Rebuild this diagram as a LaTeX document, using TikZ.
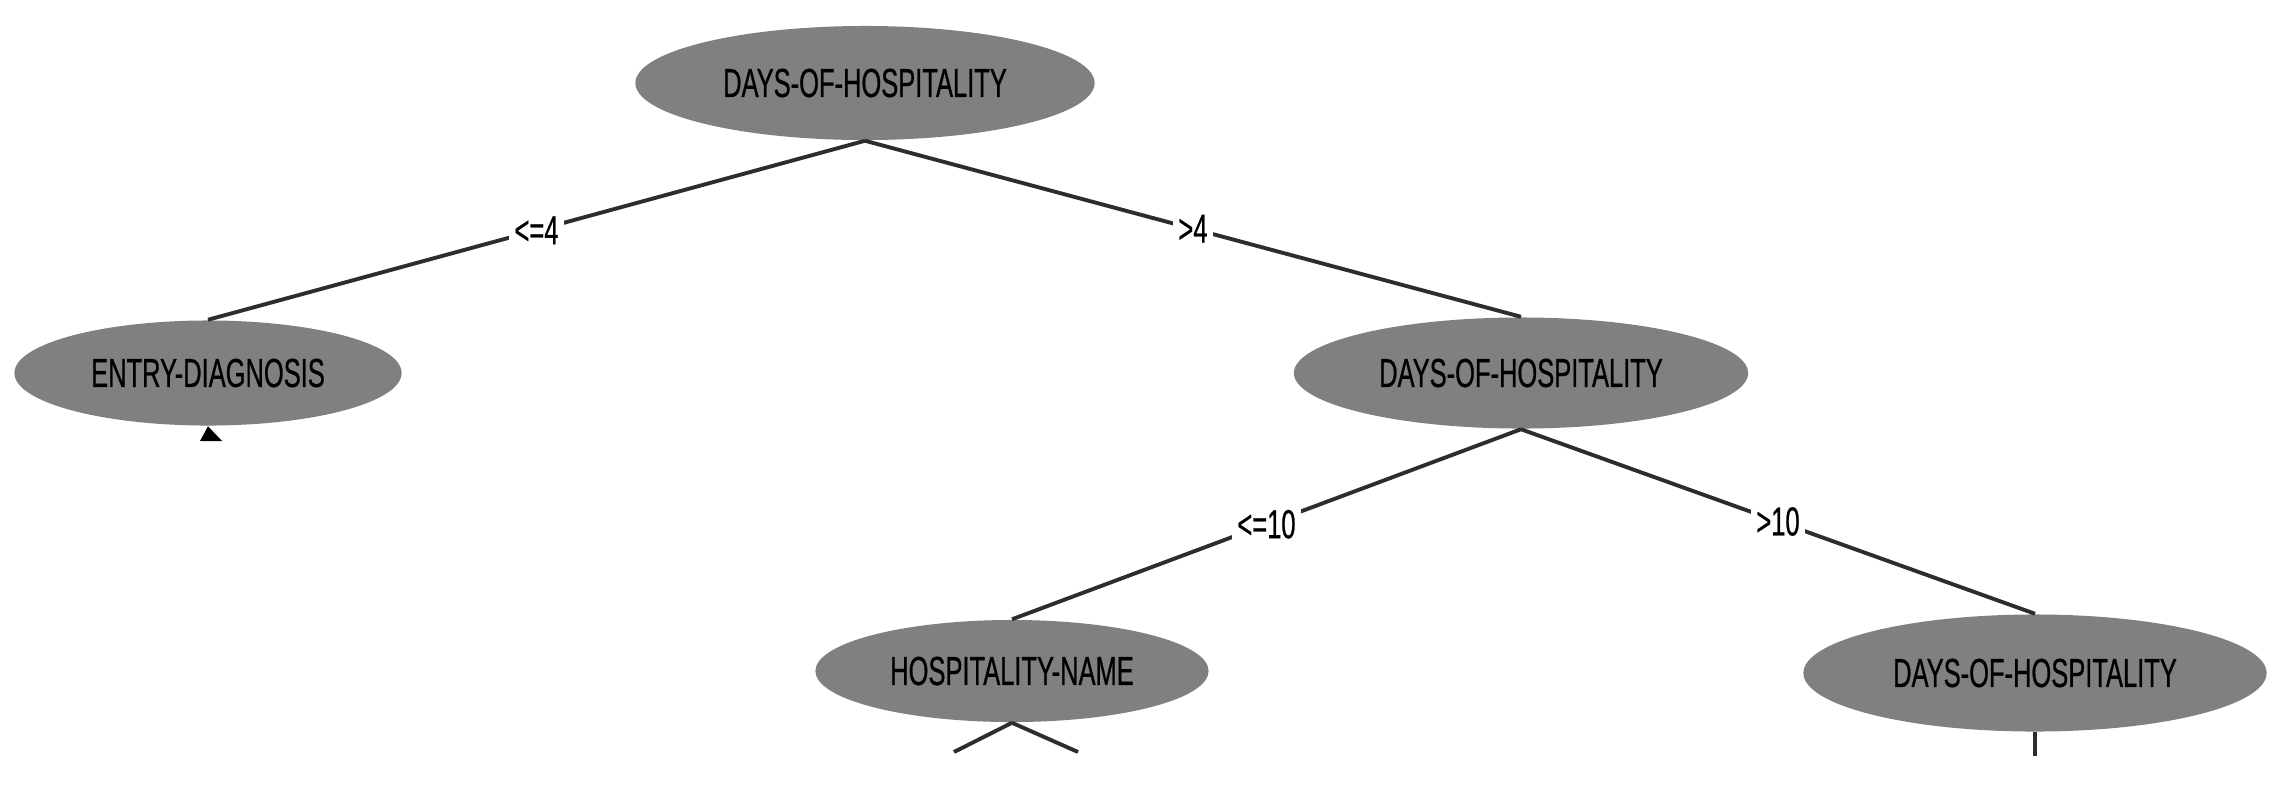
\documentclass[tikz,border=0pt]{standalone}
\usepackage{fontspec}
\usetikzlibrary{shapes.geometric}
\newfontfamily\condfont[FakeStretch=0.63,FakeBold=0.6]{Liberation Sans}
\definecolor{nodegray}{RGB}{128,128,128}
\definecolor{linegray}{RGB}{45,45,45}
\begin{document}
\begin{tikzpicture}[x=0.01cm,y=-0.01cm,
  tnode/.style={ellipse, fill=nodegray, draw=none, inner sep=0pt,
    font=\condfont\fontsize{11.5}{12}\selectfont, text=black},
  conn/.style={draw=linegray, line width=1.1pt},
  elabel/.style={fill=white, inner sep=1.5pt, font=\condfont\fontsize{11.5}{12}\selectfont, text=black}]
\useasboundingbox (0,0) rectangle (2284,793);
\fill[white] (0,0) rectangle (2284,793);
% nodes
\node[tnode, minimum width=4.59cm, minimum height=1.14cm] (root) at (865,83) {DAYS-OF-HOSPITALITY};
\node[tnode, minimum width=3.87cm, minimum height=1.05cm] (entry) at (208,373) {ENTRY-DIAGNOSIS};
\node[tnode, minimum width=4.54cm, minimum height=1.11cm] (days2) at (1521,373) {DAYS-OF-HOSPITALITY};
\node[tnode, minimum width=3.93cm, minimum height=1.02cm] (hname) at (1012,671) {HOSPITALITY-NAME};
\node[tnode, minimum width=4.63cm, minimum height=1.17cm] (days3) at (2035,673) {DAYS-OF-HOSPITALITY};
% free ends of cut-off branches
\coordinate (hl) at (954,752);
\coordinate (hr) at (1078,752);
\coordinate (dd) at (2035,756);
\coordinate (el) at (200,441);
\coordinate (er) at (222,441);
% connectors
\draw[conn] (root.south) -- node[elabel, pos=0.5] {<=4} (entry.north);
\draw[conn] (root.south) -- node[elabel, pos=0.5] {>4} (days2.north);
\draw[conn] (days2.south) -- node[elabel, pos=0.5] {<=10} (hname.north);
\draw[conn] (days2.south) -- node[elabel, pos=0.5] {>10} (days3.north);
\draw[conn] (hname.south) -- (hl);
\draw[conn] (hname.south) -- (hr);
\draw[conn] (days3.south) -- (dd);
\fill[black] (entry.south) -- (er) -- (el) -- cycle;
\end{tikzpicture}
\end{document}
